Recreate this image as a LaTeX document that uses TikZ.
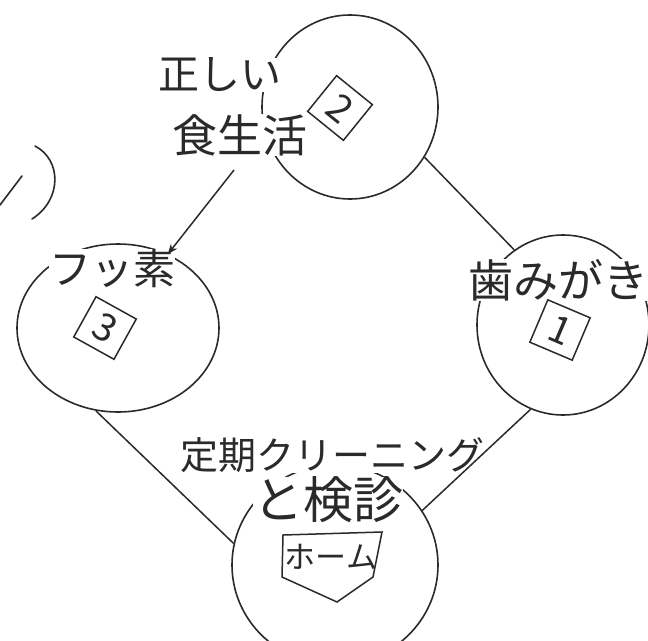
\documentclass[tikz,border=0pt]{standalone}
\usepackage{fontspec}
\newfontfamily\jp{Noto Sans CJK JP}
\usetikzlibrary{shapes.geometric,arrows.meta}
\definecolor{ink}{HTML}{2A2A2A}
\tikzset{
  base/.style={ellipse,draw=ink,line width=1.6pt,inner sep=0pt},
  lbl/.style={font=\jp\fontsize{#1}{#1}\selectfont,text=ink,inner sep=0pt},
  numbox/.style={draw=ink,line width=1.5pt,minimum size=46pt,inner sep=0pt,font=\jp\fontsize{38}{38}\selectfont,text=ink},
  conn/.style={draw=ink,line width=1.5pt}
}
\begin{document}
\begin{tikzpicture}[x=1pt,y=-1pt]
\clip (0,0) rectangle (648,640);
\fill[white] (0,0) rectangle (648,640);
% bases
\node[base,minimum width=176pt,minimum height=184pt] (second) at (350,107) {};
\node[base,minimum width=202pt,minimum height=168pt] (third) at (118,328) {};
\node[base,minimum width=172pt,minimum height=180pt] (first) at (563,325) {};
\node[base,minimum width=206pt,minimum height=200pt] (home) at (335,565) {};
% labels
\node[lbl=41,fill=white] (t2a) at (220,75) {正しい};
\node[lbl=45,fill=white] (t2b) at (240,135) {食生活};
\node[numbox,rotate=-39] (b2) at (340,108) {2};
\node[lbl=42,fill=white] (t3) at (112,268) {フッ素};
\node[numbox,rotate=-29] (b3) at (105,328) {3};
\node[lbl=45,fill=white] (t1) at (558,280) {歯みがき};
\node[numbox,rotate=-23] (b1) at (560,330) {1};
\node[lbl=38,fill=white] (th1) at (332,455) {定期クリーニング};
\node[lbl=50,fill=white] (th2) at (328,500) {と検診};
\node[lbl=31] (hm) at (331,557) {ホーム};
\draw[ink,line width=1.5pt] (283,535) -- (382,532) -- (373,577) -- (337,602) -- (282,577) -- cycle;
% connectors
\coordinate (s23) at (234,170);
\path[conn] (first.123) -- (second.-34);
\path[conn,-{Stealth[length=10pt,width=8pt]}] (s23) -- (third.56);
\path[conn] (third.-105) -- (home.168);
\path[conn] (home.32) -- (first.-111);
% partial marks at the left edge
\draw[ink,line width=1.6pt,line cap=round] (0,205) -- (22,176);
\draw[ink,line width=1.6pt,line cap=round] (35,146) .. controls (62,160) and (62,200) .. (32,219);
\end{tikzpicture}
\end{document}
